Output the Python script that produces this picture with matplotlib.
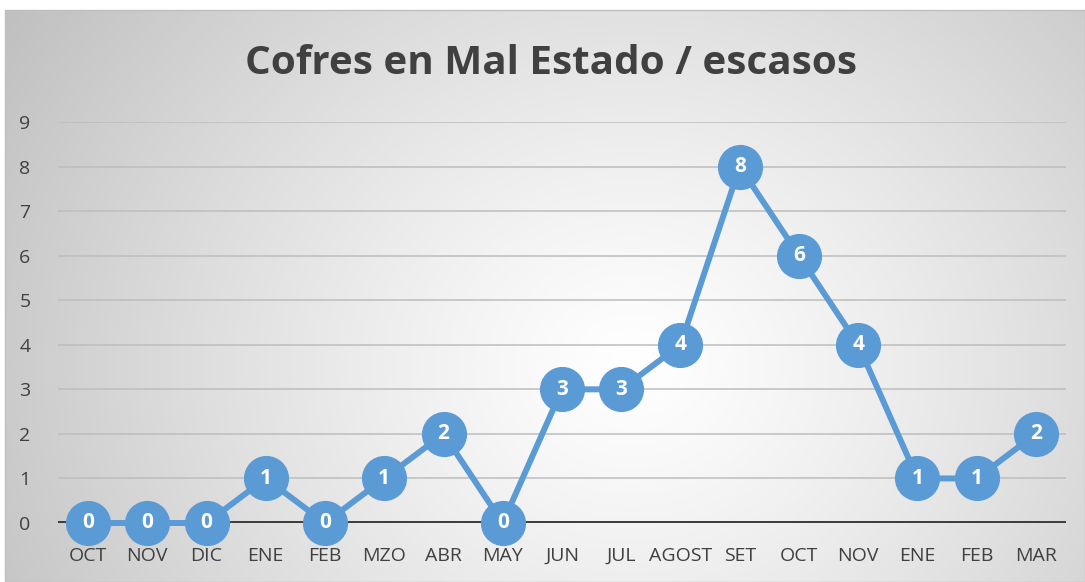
import numpy as np
import matplotlib
matplotlib.use("Agg")
import matplotlib.pyplot as plt

categories = ["OCT", "NOV", "DIC", "ENE", "FEB", "MZO", "ABR", "MAY", "JUN",
              "JUL", "AGOST", "SET", "OCT", "NOV", "ENE", "FEB", "MAR"]
values = [0, 0, 0, 1, 0, 1, 2, 0, 3, 3, 4, 8, 6, 4, 1, 1, 2]
yticks = list(range(0, 10))
title = "Cofres en Mal Estado / escasos"

W, H = 1085, 582
fig = plt.figure(figsize=(W / 100, H / 100), dpi=100)
fig.patch.set_facecolor("white")

# background radial gradient panel
bx0, by0, bx1, by1 = 5, 10, 1085, 582
bg = fig.add_axes([bx0 / W, 1 - by1 / H, (bx1 - bx0) / W, (by1 - by0) / H])
ny, nx = 300, 560
yy, xx = np.mgrid[0:ny, 0:nx]
cx, cy = nx * 0.58, ny * 0.62
d = np.sqrt(((xx - cx) / nx) ** 2 + ((yy - cy) / ny * 0.6) ** 2)
d = d / d.max()
v = 1.0 - 0.25 * np.clip(d, 0, 1) ** 1.2
img = np.dstack([v, v, v])
bg.imshow(img, aspect="auto", interpolation="bilinear", extent=[0, 1, 0, 1])
bg.set_xlim(0, 1)
bg.set_ylim(0, 1)
bg.axis("off")
fig.add_artist(plt.Rectangle((bx0 / W, 0), (bx1 - bx0) / W, (by1 - by0) / H,
                             transform=fig.transFigure, fill=False,
                             edgecolor="#BFBFBF", linewidth=1))

# plot axes
x0, x1 = 58.4, 1065.6
y9, y0 = 122, 523
ax = fig.add_axes([x0 / W, 1 - y0 / H, (x1 - x0) / W, (y0 - y9) / H])
ax.patch.set_alpha(0)
n = len(categories)
xs = np.arange(n)
ax.set_xlim(-0.5, n - 0.5)
ax.set_ylim(0, 9)

for t in yticks[1:]:
    ax.axhline(t, color="#BDBDBD", linewidth=1.1, zorder=1)
ax.axhline(0, color="#3F3F3F", linewidth=3.6, zorder=2)

ax.plot(xs, values, color="#5B9BD5", linewidth=4.3, marker="o",
        markersize=31.5, markerfacecolor="#5B9BD5", markeredgecolor="#5B9BD5",
        zorder=5, clip_on=False)
for x, v_ in zip(xs, values):
    ax.text(x, v_, str(v_), ha="center", va="center", color="white",
            fontsize=15, fontweight="bold", family="Open Sans", zorder=6)

for sp in ax.spines.values():
    sp.set_visible(False)
ax.set_yticks(yticks)
ax.set_yticklabels([str(t) for t in yticks], fontsize=14, color="#404040",
                   family="Open Sans")
ax.set_xticks(xs)
ax.set_xticklabels(categories, fontsize=14, color="#404040", family="Open Sans")
for lab in ax.get_xticklabels():
    lab.set_verticalalignment("center_baseline")
ax.tick_params(axis="both", length=0)
ax.tick_params(axis="y", pad=20)
ax.tick_params(axis="x", pad=22)

fig.text(551 / W, 1 - 64 / H, title, ha="center", va="center",
         fontsize=29.1, fontweight="bold", color="#404040", family="Open Sans")

fig.savefig("out.png", dpi=100)
